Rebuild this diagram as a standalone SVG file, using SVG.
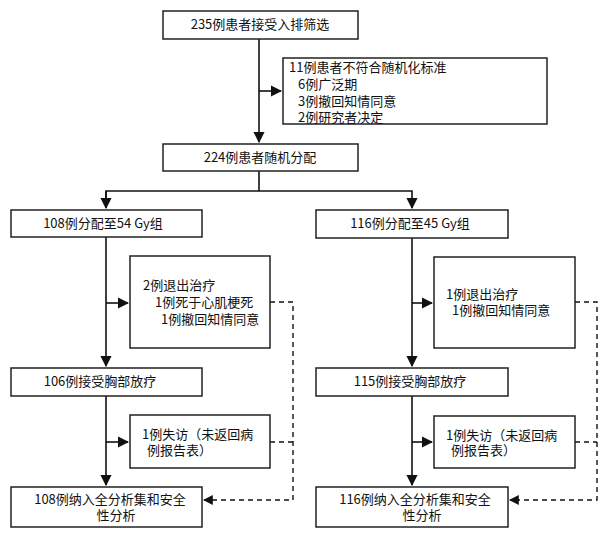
<svg xmlns="http://www.w3.org/2000/svg" width="600" height="533" viewBox="0 0 600 533">
<defs>
<marker id="a" viewBox="0 0 10 10" refX="9" refY="5" markerWidth="7" markerHeight="7" orient="auto"><path d="M0,0L10,5L0,10z" fill="#111"/></marker>
<style>
rect{fill:#fff;stroke:#222;stroke-width:1.5}
text{font-family:"Noto Sans CJK SC","Noto Sans",sans-serif;font-size:13px;fill:#111}
.c{text-anchor:middle}
.l{fill:none;stroke:#111;stroke-width:1.6}
.d{fill:none;stroke:#111;stroke-width:1.4;stroke-dasharray:5,4}
</style>
</defs>
<rect width="600" height="533" style="fill:#fff;stroke:none"/>
<g id="connectors">
<path class="l" d="M259,39V142" marker-end="url(#a)"/>
<path class="l" d="M259,91H281" marker-end="url(#a)"/>
<path class="l" d="M259,171V191H106V208M259,191H412V208" marker-end="url(#a)"/>
<path class="l" d="M106,191V208" marker-end="url(#a)"/>
<path class="l" d="M106,237V366" marker-end="url(#a)"/>
<path class="l" d="M106,303H128" marker-end="url(#a)"/>
<path class="l" d="M106,396V485" marker-end="url(#a)"/>
<path class="l" d="M106,442H128" marker-end="url(#a)"/>
<path class="l" d="M412,238V366" marker-end="url(#a)"/>
<path class="l" d="M412,303H432" marker-end="url(#a)"/>
<path class="l" d="M412,396V485" marker-end="url(#a)"/>
<path class="l" d="M412,442H432" marker-end="url(#a)"/>
<path class="d" d="M270,302H293V500H204" marker-end="url(#a)"/>
<path class="d" d="M270,442H293"/>
<path class="d" d="M575,302H597V500H510" marker-end="url(#a)"/>
<path class="d" d="M575,442H597"/>
</g>
<g id="n1"><rect x="163" y="11" width="195" height="28"/><text class="c" x="260" y="29">235例患者接受入排筛选</text></g>
<g id="n2"><rect x="283" y="58" width="264" height="66"/><text x="289" y="72">11例患者不符合随机化标准</text><text x="298" y="89">6例广泛期</text><text x="298" y="106">3例撤回知情同意</text><text x="298" y="122">2例研究者决定</text></g>
<g id="n3"><rect x="163" y="144" width="195" height="27"/><text class="c" x="260" y="162">224例患者随机分配</text></g>
<g id="n4"><rect x="11" y="210" width="191" height="27"/><text class="c" x="103" y="228">108例分配至54 Gy组</text></g>
<g id="n5"><rect x="316" y="210" width="192" height="28"/><text class="c" x="410" y="228">116例分配至45 Gy组</text></g>
<g id="n6"><rect x="130" y="256" width="140" height="92"/><text x="143" y="290">2例退出治疗</text><text x="155" y="307">1例死于心肌梗死</text><text x="161" y="324">1例撤回知情同意</text></g>
<g id="n7"><rect x="434" y="257" width="141" height="91"/><text x="446" y="299">1例退出治疗</text><text x="452" y="315">1例撤回知情同意</text></g>
<g id="n8"><rect x="11" y="368" width="191" height="28"/><text class="c" x="100" y="386">106例接受胸部放疗</text></g>
<g id="n9"><rect x="316" y="368" width="192" height="28"/><text class="c" x="410" y="386">115例接受胸部放疗</text></g>
<g id="n10"><rect x="130" y="415" width="140" height="53"/><text x="142" y="439">1例失访（未返回病</text><text x="147" y="455">例报告表）</text></g>
<g id="n11"><rect x="434" y="416" width="141" height="52"/><text x="446" y="440">1例失访（未返回病</text><text x="451" y="455">例报告表）</text></g>
<g id="n12"><rect x="11" y="487" width="191" height="40"/><text class="c" x="110" y="504">108例纳入全分析集和安全</text><text class="c" x="116" y="520">性分析</text></g>
<g id="n13"><rect x="316" y="487" width="192" height="40"/><text class="c" x="415" y="504">116例纳入全分析集和安全</text><text class="c" x="422" y="520">性分析</text></g>
</svg>
